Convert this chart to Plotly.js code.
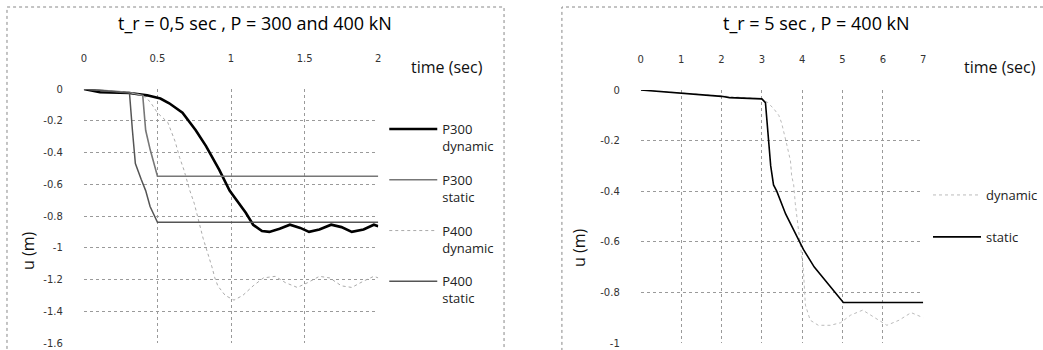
<!DOCTYPE html>
<html>
<head>
<meta charset="utf-8">
<script src="https://cdn.plot.ly/plotly-3.0.1.min.js"></script>
<style>html,body{margin:0;padding:0;background:#fff;}#chart{width:1043px;height:350px;}</style>
</head>
<body>
<div id="chart"></div>
<script>
// ---- Left panel data: t_r = 0,5 sec, P = 300 and 400 kN ----
var t300dyn = [0, 0.11, 0.31, 0.43, 0.52, 0.58, 0.67, 0.76, 0.83, 0.92, 0.99, 1.05, 1.10, 1.15, 1.21, 1.26, 1.33, 1.40, 1.47, 1.53, 1.60, 1.68, 1.75, 1.82, 1.90, 1.97, 2.0];
var u300dyn = [0, -0.02, -0.025, -0.04, -0.06, -0.09, -0.15, -0.26, -0.36, -0.51, -0.64, -0.72, -0.78, -0.855, -0.895, -0.90, -0.88, -0.855, -0.875, -0.90, -0.885, -0.855, -0.87, -0.90, -0.885, -0.855, -0.865];

var t300stat = [0, 0.30, 0.40, 0.42, 0.45, 0.50, 2.0];
var u300stat = [0, -0.02, -0.04, -0.26, -0.38, -0.55, -0.55];

var t400dyn = [0, 0.30, 0.40, 0.45, 0.50, 0.57, 0.62, 0.65, 0.68, 0.72, 0.75, 0.81, 0.87, 0.89, 0.91, 0.96, 1.02, 1.08, 1.15, 1.22, 1.30, 1.37, 1.45, 1.52, 1.60, 1.67, 1.75, 1.82, 1.90, 1.97, 2.0];
var u400dyn = [0, -0.02, -0.04, -0.08, -0.15, -0.21, -0.33, -0.43, -0.51, -0.64, -0.72, -0.94, -1.12, -1.19, -1.24, -1.30, -1.33, -1.30, -1.24, -1.19, -1.18, -1.22, -1.25, -1.22, -1.18, -1.19, -1.24, -1.25, -1.21, -1.18, -1.19];

var t400stat = [0, 0.30, 0.31, 0.33, 0.35, 0.39, 0.42, 0.45, 0.50, 2.0];
var u400stat = [0, -0.02, -0.025, -0.26, -0.47, -0.57, -0.64, -0.74, -0.84, -0.84];

// ---- Right panel data: t_r = 5 sec, P = 400 kN ----
var tDyn5 = [0, 2, 3.0, 3.15, 3.30, 3.42, 3.49, 3.61, 3.71, 3.74, 3.79, 3.83, 3.93, 4.03, 4.08, 4.20, 4.40, 4.70, 4.95, 5.20, 5.50, 5.80, 6.10, 6.40, 6.70, 7.0];
var uDyn5 = [0, -0.025, -0.035, -0.05, -0.075, -0.10, -0.13, -0.21, -0.28, -0.34, -0.375, -0.45, -0.58, -0.71, -0.85, -0.91, -0.93, -0.93, -0.92, -0.89, -0.87, -0.90, -0.93, -0.91, -0.88, -0.90];

var tStat5 = [0, 1, 2, 2.2, 3.0, 3.09, 3.12, 3.15, 3.22, 3.29, 3.37, 3.59, 3.74, 3.90, 4.03, 4.30, 4.65, 5.02, 7.0];
var uStat5 = [0, -0.012, -0.025, -0.03, -0.035, -0.05, -0.11, -0.19, -0.30, -0.375, -0.40, -0.49, -0.54, -0.59, -0.63, -0.70, -0.77, -0.84, -0.84];

// ---- Tick labels ----
var xTicksLeft = [0, 0.5, 1, 1.5, 2];
var xLabelsLeft = ["0", "0.5", "1", "1.5", "2"];
var yTicksLeft = [0, -0.2, -0.4, -0.6, -0.8, -1, -1.2, -1.4, -1.6];
var yLabelsLeft = ["0", "-0.2", "-0.4", "-0.6", "-0.8", "-1", "-1.2", "-1.4", "-1.6"];
var xTicksRight = [0, 1, 2, 3, 4, 5, 6, 7];
var xLabelsRight = ["0", "1", "2", "3", "4", "5", "6", "7"];
var yTicksRight = [0, -0.2, -0.4, -0.6, -0.8, -1];
var yLabelsRight = ["0", "-0.2", "-0.4", "-0.6", "-0.8", "-1"];

var W = 1043, H = 350;
function px(x) { return x / W; }
function py(y) { return 1 - y / H; }

var traces = [
  {x: t300dyn, y: u300dyn, name: "P300<br>dynamic", mode: "lines", line: {color: "#000", width: 2.6}, xaxis: "x", yaxis: "y", legend: "legend", legendgroup: "a"},
  {x: t300stat, y: u300stat, name: "P300<br>static", mode: "lines", line: {color: "#777", width: 1.6}, xaxis: "x", yaxis: "y", legend: "legend", legendgroup: "b"},
  {x: t400dyn, y: u400dyn, name: "P400<br>dynamic", mode: "lines", line: {color: "#aaa", width: 1, dash: "dot"}, xaxis: "x", yaxis: "y", legend: "legend", legendgroup: "c"},
  {x: t400stat, y: u400stat, name: "P400<br>static", mode: "lines", line: {color: "#555", width: 1.5}, xaxis: "x", yaxis: "y", legend: "legend", legendgroup: "d"},
  {x: tDyn5, y: uDyn5, name: "dynamic", mode: "lines", line: {color: "#bbb", width: 1, dash: "dot"}, xaxis: "x2", yaxis: "y2", legend: "legend2", legendgroup: "e"},
  {x: tStat5, y: uStat5, name: "static", mode: "lines", line: {color: "#000", width: 1.6}, xaxis: "x2", yaxis: "y2", legend: "legend2", legendgroup: "f"}
];

var tickFont = {family: "DejaVu Sans", size: 10, color: "#333"};
var gridC = "#9a9a9a";

function xAx(dom, range, tv, tt, anchor) {
  return {domain: dom, range: range, side: "top", anchor: anchor, tickvals: tv, ticktext: tt,
    showgrid: true, gridcolor: gridC, griddash: "dot", gridwidth: 1, zeroline: false, showline: false,
    ticks: "", tickfont: tickFont, ticklabelstandoff: 24, fixedrange: true};
}
function yAx(dom, range, tv, tt, anchor) {
  return {domain: dom, range: range, anchor: anchor, tickvals: tv, ticktext: tt,
    showgrid: true, gridcolor: gridC, griddash: "dot", gridwidth: 1, zeroline: false, showline: false,
    ticks: "", tickfont: tickFont, ticklabelstandoff: 20, fixedrange: true};
}

var frameLine = {color: "#888", width: 1, dash: "dot"};
var titleFont = {family: "Open Sans", size: 18, color: "#000"};
var axFont = {family: "Open Sans", size: 16, color: "#111"};

function ann(text, x, y, font, extra) {
  var a = {text: text, xref: "paper", yref: "paper", x: px(x), y: py(y), xanchor: "center", yanchor: "middle", showarrow: false, font: font};
  for (var k in (extra || {})) a[k] = extra[k];
  return a;
}

var layout = {
  width: W, height: H,
  margin: {l: 0, r: 0, t: 0, b: 0},
  paper_bgcolor: "#fff", plot_bgcolor: "#fff",
  font: {family: "Open Sans", color: "#000"},
  xaxis: xAx([px(84), px(379)], [0, 2], xTicksLeft, xLabelsLeft, "y"),
  yaxis: yAx([py(343), py(89)], [-1.6, 0], yTicksLeft, yLabelsLeft, "x"),
  xaxis2: xAx([px(642), px(925)], [0, 7], xTicksRight, xLabelsRight, "y2"),
  yaxis2: yAx([py(343), py(90)], [-1, 0], yTicksRight, yLabelsRight, "x2"),
  legend: {x: px(385), y: py(114), xanchor: "left", yanchor: "top", bgcolor: "rgba(0,0,0,0)",
    font: {family: "Open Sans", size: 13, color: "#222"}, tracegroupgap: 14, valign: "top", itemwidth: 48},
  legend2: {x: px(930), y: py(180), xanchor: "left", yanchor: "top", bgcolor: "rgba(0,0,0,0)",
    font: {family: "Open Sans", size: 13, color: "#222"}, tracegroupgap: 22, valign: "top", itemwidth: 48},
  shapes: [
    {type: "rect", xref: "paper", yref: "paper", x0: px(7), x1: px(505), y0: py(360), y1: py(7), line: frameLine},
    {type: "rect", xref: "paper", yref: "paper", x0: px(563), x1: px(1060), y0: py(360), y1: py(7), line: frameLine}
  ],
  annotations: [
    ann("t_r = 0,5 sec , P = 300 and 400 kN", 255, 23, titleFont),
    ann("t_r = 5 sec , P = 400 kN", 818, 23, titleFont),
    ann("time (sec)", 448, 67, axFont),
    ann("time (sec)", 1002, 67, axFont),
    ann("u (m)", 28, 250, axFont, {textangle: -90}),
    ann("u (m)", 580, 247, axFont, {textangle: -90})
  ]
};

Plotly.newPlot("chart", traces, layout, {staticPlot: true, displayModeBar: false});
</script>
</body>
</html>
